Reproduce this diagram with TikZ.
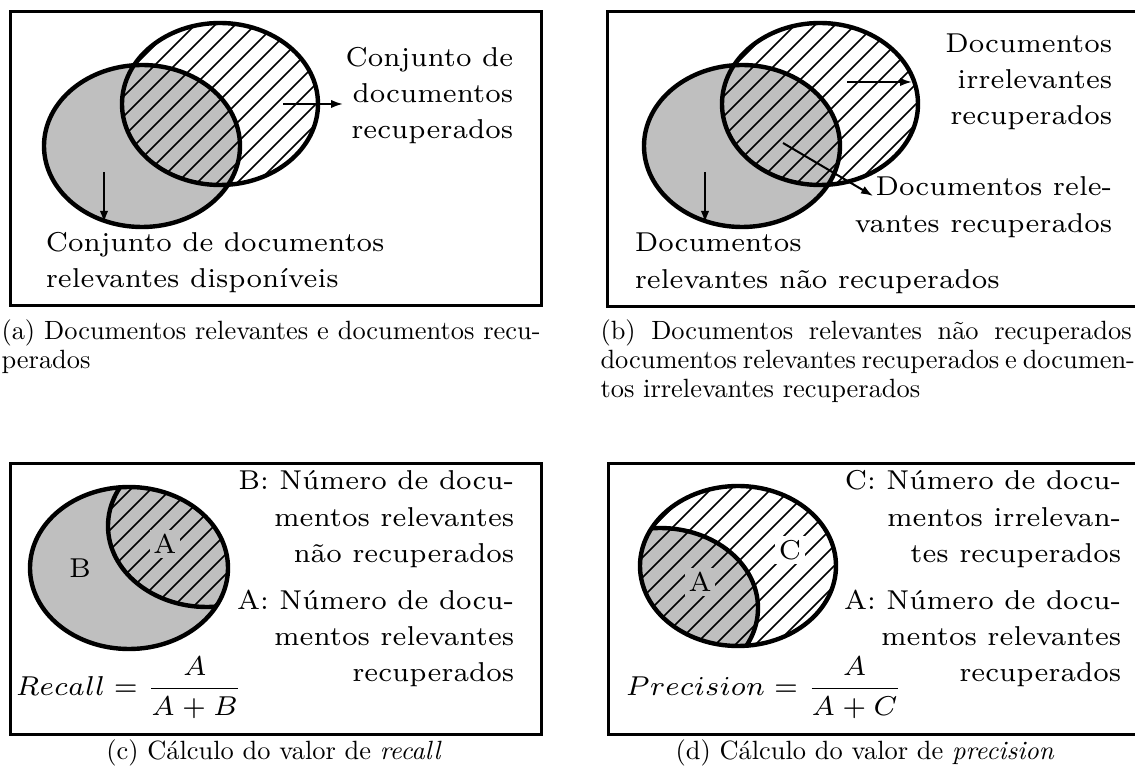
\documentclass[tikz,border=0pt]{standalone}
\usetikzlibrary{arrows.meta}
\definecolor{vgray}{gray}{0.75}
\tikzset{
  frame/.style={line width=1.5pt},
  setline/.style={line width=2.2pt},
  hatchline/.style={line width=0.8pt},
  ptr/.style={line width=1pt,-{Latex[length=6pt,width=4.2pt]}},
  lbl/.style={inner sep=0pt, scale=1.95, font=\fontsize{7}{8.4}\selectfont},
  capt/.style={inner sep=0pt, scale=1.32, font=\fontsize{10}{12}\selectfont},
  letter/.style={lbl, inner sep=1pt, fill=vgray},
  wletter/.style={lbl, inner sep=1pt, fill=white}
}
\newcommand\myhatch{\foreach \c in {0,20,...,1910} {\draw[hatchline] (\c,0) -- ++(-769,769);}}
\begin{document}
\begin{tikzpicture}[x=0.5pt,y=-0.5pt]
\useasboundingbox (0,0) rectangle (1135,769);
\clip (0,0) rectangle (1135,769);

% ---------------- panel (a)
\draw[frame] (10,12) rectangle (541,306);
\fill[vgray] (142,146) ellipse [x radius=98, y radius=81];
\begin{scope}
  \clip (220,104) ellipse [x radius=98, y radius=81];
  \myhatch
\end{scope}
\draw[setline] (142,146) ellipse [x radius=98, y radius=81];
\draw[setline] (220,104) ellipse [x radius=98, y radius=81];
\node[lbl, anchor=base east] (a1) at (514,67) {Conjunto de};
\node[lbl, anchor=base east] (a2) at (514,103) {documentos};
\node[lbl, anchor=base east] (a3) at (514,139) {recuperados};
\node[lbl, anchor=base west] (a4) at (45,252) {Conjunto de documentos};
\node[lbl, anchor=base west] (a5) at (45,288) {relevantes disponíveis};
\coordinate (aS1) at (283,104); \coordinate (aE1) at (343,104);
\coordinate (aS2) at (104,172); \coordinate (aE2) at (104,223);
\draw[ptr] (aS1) -- (aE1);
\draw[ptr] (aS2) -- (aE2);
\node[capt, anchor=base west] (ca1) at (1,340) {\makebox[204.2pt][s]{(a) Documentos relevantes e documentos recu-}};
\node[capt, anchor=base west] (ca2) at (1,369) {perados};

% ---------------- panel (b)
\draw[frame] (607,12) rectangle (1150,307);
\fill[vgray] (742,146) ellipse [x radius=98, y radius=81];
\begin{scope}
  \clip (820,104) ellipse [x radius=98, y radius=81];
  \myhatch
\end{scope}
\draw[setline] (742,146) ellipse [x radius=98, y radius=81];
\draw[setline] (820,104) ellipse [x radius=98, y radius=81];
\node[lbl, anchor=base east] (b1) at (1113,53) {Documentos};
\node[lbl, anchor=base east] (b2) at (1113,89) {irrelevantes};
\node[lbl, anchor=base east] (b3) at (1113,125) {recuperados};
\node[lbl, anchor=base east] (b4) at (1113,196) {Documentos rele-};
\node[lbl, anchor=base east] (b5) at (1113,233) {vantes recuperados};
\node[lbl, anchor=base west] (b6) at (634,252) {Documentos};
\node[lbl, anchor=base west] (b7) at (634,289) {relevantes não recuperados};
\coordinate (bS1) at (847,82); \coordinate (bE1) at (912,82);
\coordinate (bS2) at (783,143); \coordinate (bE2) at (873,196);
\coordinate (bS3) at (705,172); \coordinate (bE3) at (705,223);
\draw[ptr] (bS1) -- (bE1);
\draw[ptr] (bS2) -- (bE2);
\draw[ptr] (bS3) -- (bE3);
\node[capt, anchor=base west] (cb1) at (600,340) {\makebox[201.2pt][s]{(b) Documentos relevantes não recuperados}};
\node[capt, anchor=base west] (cb2) at (600,369) {\makebox[201.5pt][s]{documentos relevantes recuperados e documen-}};
\node[capt, anchor=base west] (cb3) at (600,398) {tos irrelevantes recuperados};

% ---------------- panel (c)
\draw[frame] (10,464) rectangle (541,734);
\fill[vgray] (129,568) ellipse [x radius=99, y radius=81];
\begin{scope}
  \clip (129,568) ellipse [x radius=99, y radius=81];
  \clip (207,526) ellipse [x radius=99, y radius=81];
  \myhatch
\end{scope}
\node[letter] (cB) at (80,568) {B};
\node[letter] (cA) at (165,544) {A};
\begin{scope}
  \clip (129,568) ellipse [x radius=99, y radius=81];
  \draw[setline] (207,526) ellipse [x radius=99, y radius=81];
\end{scope}
\draw[setline] (129,568) ellipse [x radius=99, y radius=81];
\node[lbl, anchor=base east] (c1) at (515,490) {B: Número de docu-};
\node[lbl, anchor=base east] (c2) at (515,527) {mentos relevantes};
\node[lbl, anchor=base east] (c3) at (515,563) {não recuperados};
\node[lbl, anchor=base east] (c4) at (515,610) {A: Número de docu-};
\node[lbl, anchor=base east] (c5) at (515,646) {mentos relevantes};
\node[lbl, anchor=base east] (c6) at (515,682) {recuperados};
\node[lbl, anchor=west] (cf) at (15,688) {$\displaystyle Recall=\frac{A}{A+B}$};
\node[capt, anchor=base] (cc) at (274,759) {(c) Cálculo do valor de \emph{recall}};

% ---------------- panel (d)
\draw[frame] (608,464) rectangle (1150,734);
\begin{scope}
  \clip (738,566) ellipse [x radius=98, y radius=80];
  \fill[vgray] (660,608) ellipse [x radius=98, y radius=80];
  \myhatch
\end{scope}
\node[letter] (dA) at (700,582) {A};
\node[wletter] (dC) at (790,550) {C};
\begin{scope}
  \clip (738,566) ellipse [x radius=98, y radius=80];
  \draw[setline] (660,608) ellipse [x radius=98, y radius=80];
\end{scope}
\draw[setline] (738,566) ellipse [x radius=98, y radius=80];
\node[lbl, anchor=base east] (d1) at (1122,490) {C: Número de docu-};
\node[lbl, anchor=base east] (d2) at (1122,527) {mentos irrelevan-};
\node[lbl, anchor=base east] (d3) at (1122,563) {tes recuperados};
\node[lbl, anchor=base east] (d4) at (1122,610) {A: Número de docu-};
\node[lbl, anchor=base east] (d5) at (1122,646) {mentos relevantes};
\node[lbl, anchor=base east] (d6) at (1122,682) {recuperados};
\node[lbl, anchor=west] (df) at (625,688) {$\displaystyle Precision=\frac{A}{A+C}$};
\node[capt, anchor=base] (dc) at (865,759) {(d) Cálculo do valor de \emph{precision}};
\end{tikzpicture}
\end{document}
